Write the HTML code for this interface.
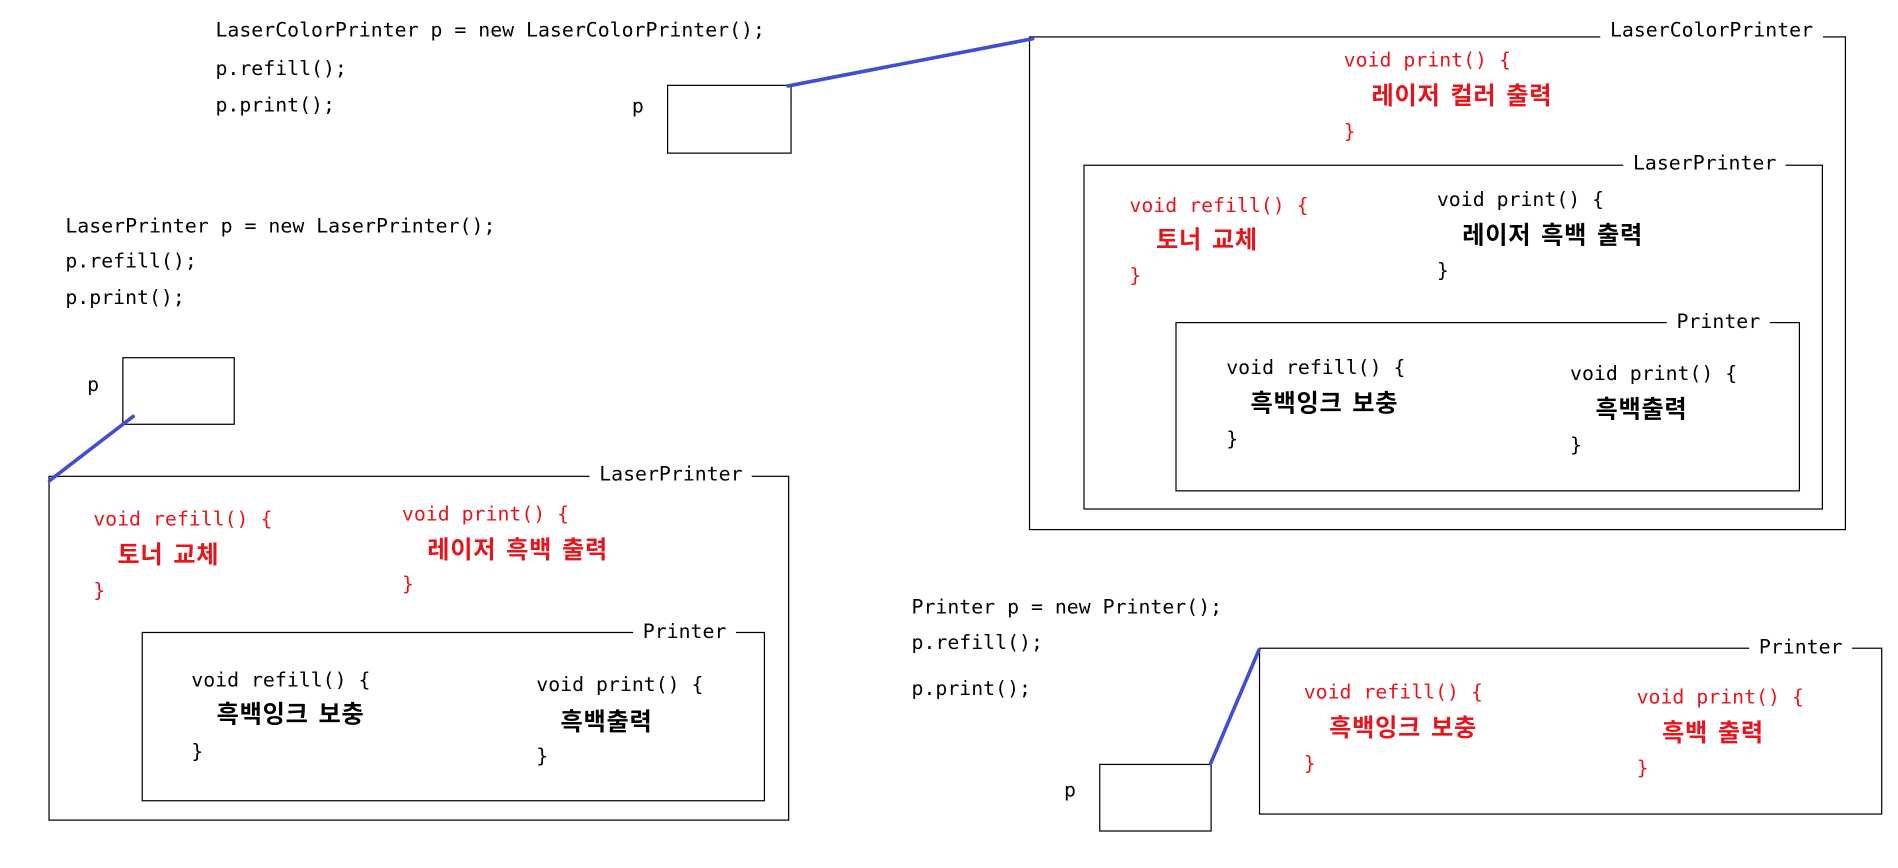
<!DOCTYPE html>
<html><head><meta charset="utf-8"><style>
html,body{margin:0;padding:0;background:#fff;width:1898px;height:868px;overflow:hidden}
#s{position:absolute;left:0;top:0;width:1568px;height:717px;transform:scale(1.2105);transform-origin:0 0}
.t{position:absolute;font-family:"DejaVu Sans Mono","Liberation Mono","Noto Sans CJK KR",monospace;font-size:16.4px;line-height:20px;white-space:pre;color:#000}
.r{color:#e8141c}
.k{font-family:"Noto Sans CJK KR",sans-serif;font-weight:bold;font-size:20px;letter-spacing:0.6px;word-spacing:3px;margin-top:-1px}
.b{position:absolute;border:1px solid #000;box-sizing:border-box}
.l{position:absolute;background:#fff;padding:0 8px;font-family:"DejaVu Sans Mono","Liberation Mono",monospace;font-size:16.4px;line-height:20px;white-space:pre}
svg{position:absolute;left:0;top:0}
</style></head><body><div id="s">
<div class="t" style="left:178px;top:15px">LaserColorPrinter p = new LaserColorPrinter();</div>
<div class="t" style="left:178px;top:47px">p.refill();</div>
<div class="t" style="left:178px;top:77px">p.print();</div>
<div class="t" style="left:522px;top:78px">p</div>
<div class="b" style="left:551px;top:70px;width:103px;height:57px"></div>

<div class="b" style="left:850px;top:30px;width:675px;height:408px"></div>
<div class="l" style="left:1322px;top:15px">LaserColorPrinter</div>
<div class="t r" style="left:1110px;top:40px">void print() {</div>
<div class="t r k" style="left:1133px;top:69px">레이저 컬러 출력</div>
<div class="t r" style="left:1110px;top:99px">}</div>
<div class="b" style="left:895px;top:136px;width:611px;height:285px"></div>
<div class="l" style="left:1341px;top:125px">LaserPrinter</div>
<div class="t r" style="left:933px;top:160px">void refill() {</div>
<div class="t r k" style="left:955px;top:188px">토너 교체</div>
<div class="t r" style="left:933px;top:218px">}</div>
<div class="t" style="left:1187px;top:155px">void print() {</div>
<div class="t k" style="left:1208px;top:184px">레이저 흑백 출력</div>
<div class="t" style="left:1187px;top:214px">}</div>
<div class="b" style="left:971px;top:266px;width:516px;height:140px"></div>
<div class="l" style="left:1377px;top:256px">Printer</div>
<div class="t" style="left:1013px;top:294px">void refill() {</div>
<div class="t k" style="left:1033px;top:323px">흑백잉크 보충</div>
<div class="t" style="left:1013px;top:353px">}</div>
<div class="t" style="left:1297px;top:299px">void print() {</div>
<div class="t k" style="left:1318px;top:328px">흑백출력</div>
<div class="t" style="left:1297px;top:358px">}</div>

<div class="t" style="left:54px;top:177px">LaserPrinter p = new LaserPrinter();</div>
<div class="t" style="left:54px;top:206px">p.refill();</div>
<div class="t" style="left:54px;top:236px">p.print();</div>
<div class="t" style="left:72px;top:308px">p</div>
<div class="b" style="left:101px;top:295px;width:93px;height:56px"></div>

<div class="b" style="left:40px;top:393px;width:612px;height:285px"></div>
<div class="l" style="left:487px;top:382px">LaserPrinter</div>
<div class="t r" style="left:77px;top:419px">void refill() {</div>
<div class="t r k" style="left:97px;top:448px">토너 교체</div>
<div class="t r" style="left:77px;top:478px">}</div>
<div class="t r" style="left:332px;top:415px">void print() {</div>
<div class="t r k" style="left:353px;top:444px">레이저 흑백 출력</div>
<div class="t r" style="left:332px;top:473px">}</div>
<div class="b" style="left:117px;top:522px;width:515px;height:140px"></div>
<div class="l" style="left:523px;top:512px">Printer</div>
<div class="t" style="left:158px;top:552px">void refill() {</div>
<div class="t k" style="left:179px;top:580px">흑백잉크 보충</div>
<div class="t" style="left:158px;top:611px">}</div>
<div class="t" style="left:443px;top:556px">void print() {</div>
<div class="t k" style="left:463px;top:586px">흑백출력</div>
<div class="t" style="left:443px;top:615px">}</div>

<div class="t" style="left:753px;top:492px">Printer p = new Printer();</div>
<div class="t" style="left:753px;top:521px">p.refill();</div>
<div class="t" style="left:753px;top:559px">p.print();</div>
<div class="b" style="left:1040px;top:535px;width:515px;height:138px"></div>
<div class="l" style="left:1445px;top:525px">Printer</div>
<div class="t r" style="left:1077px;top:562px">void refill() {</div>
<div class="t r k" style="left:1098px;top:591px">흑백잉크 보충</div>
<div class="t r" style="left:1077px;top:621px">}</div>
<div class="t r" style="left:1352px;top:566px">void print() {</div>
<div class="t r k" style="left:1373px;top:595px">흑백 출력</div>
<div class="t r" style="left:1352px;top:625px">}</div>
<div class="t" style="left:879px;top:643px">p</div>
<div class="b" style="left:908px;top:631px;width:93px;height:56px"></div>

<svg width="1568" height="717">
<g stroke="#3f4fd0" stroke-width="3" stroke-linecap="round">
<line x1="651" y1="71" x2="853" y2="32"/>
<line x1="110" y1="344" x2="41" y2="397"/>
<line x1="1000" y1="631" x2="1040" y2="537"/>
</g></svg>
</div></body></html>
